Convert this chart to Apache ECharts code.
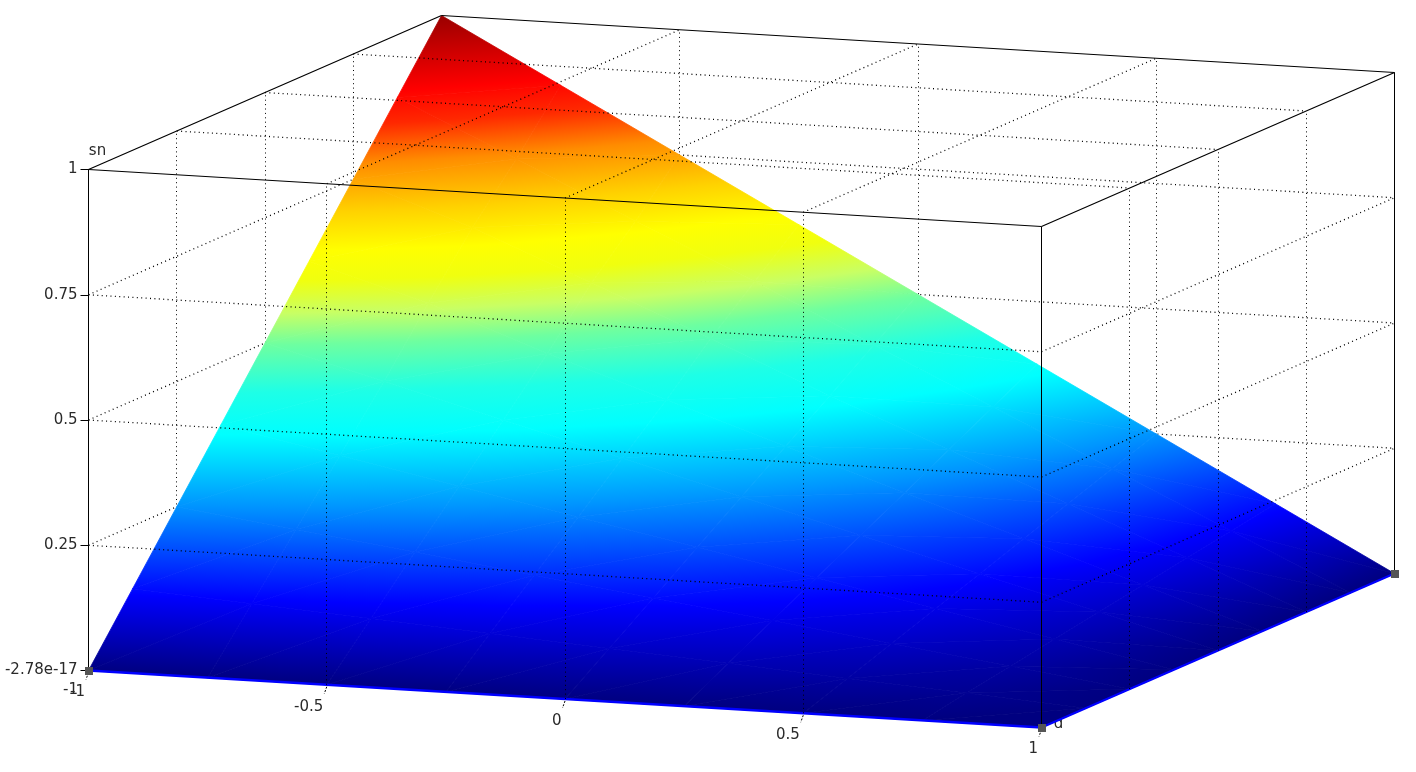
<!DOCTYPE html>
<html>
<head>
<meta charset="utf-8">
<style>html,body{margin:0;padding:0;background:#fff}#c{width:1416px;height:772px}</style>
<script src="https://cdn.jsdelivr.net/npm/echarts@6/dist/echarts.min.js"></script>
</head>
<body>
<div id="c"></div>
<script>
// ---- data ----
const uNodes = [-1, -0.75, -0.5, -0.25, 0, 0.25, 0.5, 0.75, 1];
const vNodes = [-1, -0.75, -0.5, -0.25, 0, 0.25, 0.5, 0.75, 1];
// sn at each (u row, v column)
const snRow0 = [0, 0.125, 0.25, 0.375, 0.5, 0.625, 0.75, 0.875, 1];
const snRow1 = [0, 0.109, 0.219, 0.328, 0.438, 0.555, 0.668, 0.766, 0.875];
const snRow2 = [0, 0.094, 0.188, 0.281, 0.375, 0.469, 0.572, 0.656, 0.75];
const snRow3 = [0, 0.078, 0.156, 0.234, 0.3125, 0.391, 0.475, 0.55, 0.625];
const snRow4 = [0, 0.0625, 0.125, 0.1875, 0.25, 0.3125, 0.375, 0.4375, 0.5];
const snRow5 = [0, 0.047, 0.094, 0.141, 0.1875, 0.234, 0.281, 0.328, 0.375];
const snRow6 = [0, 0.031, 0.0625, 0.094, 0.125, 0.156, 0.1875, 0.219, 0.25];
const snRow7 = [0, 0.016, 0.031, 0.047, 0.0625, 0.078, 0.094, 0.109, 0.125];
const snRow8 = [0, 0, 0, 0, 0, 0, 0, 0, 0];
const snRows = [snRow0, snRow1, snRow2, snRow3, snRow4, snRow5, snRow6, snRow7, snRow8];

const uTicks = [-1, -0.5, 0, 0.5, 1];
const uTickLabels = ['-1', '-0.5', '0', '0.5', '1'];
const vTicks = [-1, -0.5, 0, 0.5, 1];
const snTicks = [0, 0.25, 0.5, 0.75, 1];
const snTickLabels = ['-2.78e-17', '0.25', '0.5', '0.75', '1'];

// colour scale: sn -> colour
const colorStops = [
  [0, '#000080'], [0.115, '#0000ff'], [0.253, '#0096ff'], [0.36, '#00ffff'], [0.424, '#1effe6'],
  [0.497, '#6effa0'], [0.545, '#c8ff64'], [0.595, '#f0ff0f'], [0.64, '#ffff00'], [0.70, '#ffd200'],
  [0.774, '#ff8c00'], [0.835, '#ff2800'], [0.885, '#ff0000'], [1, '#9a0000']
];

// ---- oblique view, in the units of the front-face axes ----
const viewVX = 176.5 / 476.5, viewUY = 28.5 / 501, viewVY = 77 / 501;
function proj(u, v, z) {
  return [u + viewVX * (v + 1), z - viewUY * (u + 1) + viewVY * (v + 1)];
}

function colorAt(t) {
  if (t <= 0) return colorStops[0][1];
  for (let i = 1; i < colorStops.length; i++) {
    if (t <= colorStops[i][0]) {
      const a = colorStops[i - 1], b = colorStops[i], f = (t - a[0]) / (b[0] - a[0]);
      const ca = echarts.color.parse(a[1]), cb = echarts.color.parse(b[1]);
      return 'rgb(' + [0, 1, 2].map(k => Math.round(ca[k] + (cb[k] - ca[k]) * f)).join(',') + ')';
    }
  }
  return colorStops[colorStops.length - 1][1];
}

// triangles: 3 nodes each, with sn
const triangles = [];
for (let i = 0; i < uNodes.length - 1; i++) {
  for (let j = 0; j < vNodes.length - 1; j++) {
    const n = (a, b) => [uNodes[a], vNodes[b], snRows[a][b]];
    triangles.push([...n(i, j), ...n(i + 1, j), ...n(i + 1, j + 1)]);
    triangles.push([...n(i, j), ...n(i + 1, j + 1), ...n(i, j + 1)]);
  }
}

function triGradient(p, z) {
  const zmin = Math.min(z[0], z[1], z[2]), zmax = Math.max(z[0], z[1], z[2]);
  if (zmax - zmin < 1e-6) return colorAt(zmin);
  const dx1 = p[1][0] - p[0][0], dy1 = p[1][1] - p[0][1], dz1 = z[1] - z[0];
  const dx2 = p[2][0] - p[0][0], dy2 = p[2][1] - p[0][1], dz2 = z[2] - z[0];
  const det = dx1 * dy2 - dx2 * dy1;
  const a = (dz1 * dy2 - dz2 * dy1) / det, b = (dx1 * dz2 - dx2 * dz1) / det;
  const g2 = a * a + b * b;
  // run the ramp a little past the triangle, so the seam strokes stay on the same colour plane
  const lo = Math.max(0, zmin - 0.012), hi = Math.min(1, zmax + 0.012), range = hi - lo;
  const k0 = z.indexOf(zmin);
  const x0 = p[k0][0] + a / g2 * (lo - zmin), y0 = p[k0][1] + b / g2 * (lo - zmin);
  const x1 = x0 + a / g2 * range, y1 = y0 + b / g2 * range;
  const stops = [{ offset: 0, color: colorAt(lo) }];
  colorStops.forEach(s => {
    if (s[0] > lo && s[0] < hi) stops.push({ offset: (s[0] - lo) / range, color: s[1] });
  });
  stops.push({ offset: 1, color: colorAt(hi) });
  return new echarts.graphic.LinearGradient(x0, y0, x1, y1, stops, true);
}

// segments: [u1,v1,z1,u2,v2,z2]
const wallsBehind = [], wallsFront = [];
vTicks.slice(1, 4).forEach(v => {
  wallsBehind.push([-1, v, 0, -1, v, 1]);
  wallsFront.push([1, v, 0, 1, v, 1]);
  wallsFront.push([-1, v, 1, 1, v, 1]);
});
uTicks.slice(1, 4).forEach(u => {
  wallsBehind.push([u, 1, 0, u, 1, 1]);
  wallsFront.push([u, -1, 0, u, -1, 1]);
  wallsFront.push([u, -1, 1, u, 1, 1]);
});
snTicks.slice(1, 4).forEach(z => {
  wallsBehind.push([-1, -1, z, -1, 1, z]);
  wallsBehind.push([-1, 1, z, 1, 1, z]);
  wallsFront.push([-1, -1, z, 1, -1, z]);
  wallsFront.push([1, -1, z, 1, 1, z]);
});
const boxEdges = [
  [-1, -1, 1, 1, -1, 1], [1, -1, 1, 1, 1, 1], [1, 1, 1, -1, 1, 1], [-1, 1, 1, -1, -1, 1],
  [1, -1, 0, 1, -1, 1], [1, 1, 0, 1, 1, 1]
];
const surfaceEdges = [[-1, -1, 0, 1, -1, 0], [1, -1, 0, 1, 1, 0]];
const cornerMarks = [[-1, -1, 0], [1, -1, 0], [1, 1, 0]];

function segmentRender(style, verticalWidth) {
  return function (params, api) {
    const a = api.coord(proj(api.value(0), api.value(1), api.value(2)));
    const b = api.coord(proj(api.value(3), api.value(4), api.value(5)));
    let s = style;
    if (verticalWidth && Math.abs(a[0] - b[0]) < 0.01) {
      a[0] = b[0] = Math.floor(a[0]) + 0.5;
      s = Object.assign({}, style, { lineWidth: verticalWidth });
    }
    return { type: 'line', shape: { x1: a[0], y1: a[1], x2: b[0], y2: b[1] }, style: s };
  };
}

const dotted = { stroke: '#000', lineWidth: 1.3, lineDash: [1, 3.4], fill: null };
const solid = { stroke: '#000', lineWidth: 1.2, fill: null };
const textFont = { fontSize: 15, fontFamily: 'DejaVu Sans', fill: '#2a2a2a' };

function textAt(u, v, z, dx, dy, text, align) {
  return function (api) {
    const p = api.coord(proj(u, v, z));
    return {
      type: 'text',
      style: Object.assign({ text: text, x: p[0] + dx, y: p[1] + dy, textAlign: align, textVerticalAlign: 'middle' }, textFont)
    };
  };
}

const labelsBehind = [textAt(1, -1, 0, 17, -3.5, 'd', 'center')];
const labelsFront = uTicks.map((u, i) => textAt(u, -1, 0, -3.5, 22, uTickLabels[i], 'right'));
labelsFront.push(textAt(-1, -1, 0, -10.5, 20, '-1', 'right'));
labelsFront.push(textAt(-1, -1, 1, 9, -18, 'sn', 'center'));

function textSeries(list, z) {
  return {
    type: 'custom', coordinateSystem: 'cartesian2d', silent: true, z: z, clip: false, animation: false,
    data: list.map((_, i) => [i]),
    renderItem: (params, api) => list[params.dataIndex](api)
  };
}

const chart = echarts.init(document.getElementById('c'), null, { renderer: 'canvas' });
chart.setOption({
  animation: false,
  backgroundColor: '#fff',
  grid: { left: 88.5, top: 169.5, width: 953, height: 501, containLabel: false, show: false },
  xAxis: { type: 'value', min: -1, max: 1, show: false },
  yAxis: {
    type: 'value', min: 0, max: 1, interval: 0.25,
    axisLine: { show: true, onZero: false, lineStyle: { color: '#000', width: 1 } },
    axisTick: { show: true, length: 8, lineStyle: { color: '#000', width: 1 } },
    splitLine: { show: false },
    axisLabel: {
      margin: 11, fontSize: 15, fontFamily: 'DejaVu Sans', color: '#2a2a2a', padding: [4, 0, 0, 0],
      formatter: value => snTickLabels[snTicks.indexOf(value)]
    }
  },
  series: [
    {
      name: 'behind', type: 'custom', coordinateSystem: 'cartesian2d', silent: true, z: 1, clip: false, animation: false,
      data: wallsBehind, renderItem: segmentRender(dotted, 1)
    },
    textSeries(labelsBehind, 1),
    {
      name: 'sn', type: 'custom', coordinateSystem: 'cartesian2d', silent: true, z: 2, clip: false, animation: false,
      data: triangles,
      renderItem: function (params, api) {
        const p = [0, 3, 6].map(k => api.coord(proj(api.value(k), api.value(k + 1), api.value(k + 2))));
        const z = [api.value(2), api.value(5), api.value(8)];
        const g = triGradient(p, z);
        return { type: 'polygon', shape: { points: p }, style: { fill: g, stroke: g, lineWidth: 0.8 } };
      }
    },
    {
      name: 'edge', type: 'custom', coordinateSystem: 'cartesian2d', silent: true, z: 3, clip: false, animation: false,
      data: surfaceEdges, renderItem: segmentRender({ stroke: '#0000ff', lineWidth: 2.4, fill: null }, 0)
    },
    {
      name: 'front', type: 'custom', coordinateSystem: 'cartesian2d', silent: true, z: 4, clip: false, animation: false,
      data: wallsFront, renderItem: segmentRender(dotted, 1)
    },
    {
      name: 'box', type: 'custom', coordinateSystem: 'cartesian2d', silent: true, z: 5, clip: false, animation: false,
      data: boxEdges, renderItem: segmentRender(solid, 1)
    },
    {
      name: 'ticks', type: 'custom', coordinateSystem: 'cartesian2d', silent: true, z: 5, clip: false, animation: false,
      data: uTicks.map(u => [u]),
      renderItem: function (params, api) {
        const p = api.coord(proj(api.value(0), -1, 0));
        return { type: 'line', shape: { x1: p[0], y1: p[1] + 2, x2: p[0] - 2.5, y2: p[1] + 9 }, style: { stroke: '#000', lineWidth: 1, lineDash: [2, 1.5], fill: null } };
      }
    },
    {
      name: 'marks', type: 'custom', coordinateSystem: 'cartesian2d', silent: true, z: 6, clip: false, animation: false,
      data: cornerMarks,
      renderItem: function (params, api) {
        const p = api.coord(proj(api.value(0), api.value(1), api.value(2)));
        return { type: 'rect', shape: { x: Math.round(p[0] - 4), y: Math.round(p[1] - 4), width: 8, height: 8 }, style: { fill: '#555' } };
      }
    },
    textSeries(labelsFront, 7)
  ]
});
</script>
</body>
</html>
